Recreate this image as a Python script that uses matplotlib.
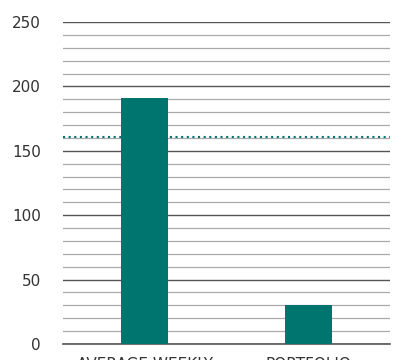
import matplotlib.pyplot as plt
from matplotlib.ticker import MultipleLocator

categories = ['AVERAGE WEEKLY', 'PORTFOLIO']
values = [191, 30]
reference = 161

fig = plt.figure(figsize=(4.14, 3.6), dpi=100)
ax = fig.add_axes([63 / 414, 16 / 360, 327 / 414, 322 / 360])

teal = '#007570'
x = range(len(categories))
ax.bar(x, values, width=0.29, color=teal, zorder=3)
ax.axhline(reference, color=teal, linestyle=(0, (1, 1.7)), linewidth=1.5, zorder=2)

ax.set_xlim(-0.5, 1.5)
ax.set_ylim(0, 250)
ax.yaxis.set_major_locator(MultipleLocator(50))
ax.yaxis.set_minor_locator(MultipleLocator(10))
ax.grid(which='major', axis='y', color='#555555', linewidth=1.0, zorder=1)
ax.grid(which='minor', axis='y', color='#aaaaaa', linewidth=0.9, zorder=1)
# baseline at zero
ax.axhline(0, color='#555555', linewidth=1.2, zorder=1, clip_on=False)

ax.set_xticks(list(x))
ax.set_xticklabels(categories)
for s in ax.spines.values():
    s.set_visible(False)
ax.tick_params(axis='both', which='both', length=0, labelsize=11, colors='#333333')
ax.tick_params(axis='y', pad=16)
ax.tick_params(axis='x', pad=9.5)

fig.savefig('out.png', dpi=100)
